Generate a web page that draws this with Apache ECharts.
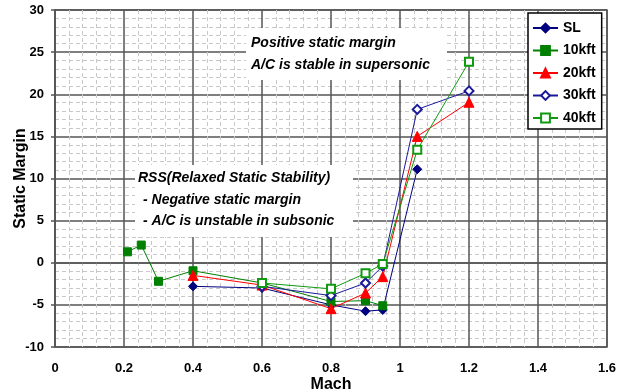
<!DOCTYPE html>
<html>
<head>
<meta charset="utf-8">
<script src="https://cdn.jsdelivr.net/npm/echarts@6/dist/echarts.min.js"></script>
<style>
  html, body { margin: 0; padding: 0; background: #fff; }
  #chart { width: 629px; height: 392px; }
</style>
</head>
<body>
<div id="chart"></div>
<script>
// Mach number / static margin for each altitude
var machSL = [0.4, 0.6, 0.8, 0.9, 0.95, 1.05];
var smSL = [-2.8, -3.0, -5.0, -5.75, -5.6, 11.1];

var mach10 = [0.21, 0.25, 0.3, 0.4, 0.6, 0.8, 0.9, 0.95];
var sm10 = [1.3, 2.1, -2.2, -0.95, -2.4, -4.6, -4.5, -5.1];

var mach20 = [0.4, 0.6, 0.8, 0.9, 0.95, 1.05, 1.2];
var sm20 = [-1.5, -2.65, -5.45, -3.6, -1.65, 15.0, 19.05];

var mach30 = [0.6, 0.8, 0.9, 0.95, 1.05, 1.2];
var sm30 = [-2.8, -3.9, -2.4, -0.4, 18.2, 20.4];

var mach40 = [0.6, 0.8, 0.9, 0.95, 1.05, 1.2];
var sm40 = [-2.4, -3.1, -1.25, -0.15, 13.4, 23.85];

var FONT = '"Liberation Sans", Arial, sans-serif';

function pairs(xs, ys) {
    return xs.map(function (x, i) { return [x, ys[i]]; });
}

function line(name, xs, ys, color, symbol, size) {
    return {
        name: name,
        type: 'line',
        data: pairs(xs, ys),
        symbol: symbol,
        symbolSize: size,
        color: color,
        lineStyle: { color: color, width: 1 },
        itemStyle: { color: color, borderColor: color, borderWidth: 1 },
        z: 3
    };
}

var myChart = echarts.init(document.getElementById('chart'));
myChart.setOption({
    animation: false,
    backgroundColor: '#fff',
    textStyle: { fontFamily: FONT },
    grid: {
        left: 55, right: 22, top: 10, bottom: 45,
        outerBoundsMode: 'none',
        containLabel: false,
        show: true,
        borderColor: '#555',
        borderWidth: 1.5
    },
    legend: {
        orient: 'vertical',
        left: 528, top: 13,
        width: 72,
        backgroundColor: '#fff',
        borderColor: '#000',
        borderWidth: 1.5,
        padding: [8, 6, 4, 4],
        itemWidth: 25,
        itemHeight: 11,
        itemGap: 8.5,
        textStyle: { fontFamily: FONT, fontWeight: 'bold', fontSize: 14, color: '#000' },
        data: ['SL', '10kft', '20kft', '30kft', '40kft']
    },
    xAxis: {
        type: 'value',
        min: 0, max: 1.6, interval: 0.2,
        name: 'Mach',
        nameLocation: 'middle',
        nameGap: 30,
        nameMoveOverlap: false,
        nameTextStyle: { fontFamily: FONT, fontWeight: 'bold', fontSize: 16, color: '#000' },
        axisLine: { show: true, lineStyle: { color: '#555', width: 1.5 } },
        axisTick: { show: false },
        axisLabel: {
            margin: 15,
            fontFamily: FONT, fontWeight: 'bold', fontSize: 13, color: '#000',
            formatter: function (v) { return String(Math.round(v * 10) / 10); }
        },
        splitLine: { show: true, lineStyle: { color: '#555', width: 1.5 } },
        minorTick: { show: false, splitNumber: 5 },
        minorSplitLine: { show: true, lineStyle: { color: '#c8c8c8', width: 1, type: [4, 3] } }
    },
    yAxis: {
        type: 'value',
        min: -10, max: 30, interval: 5,
        name: 'Static Margin',
        nameLocation: 'middle',
        nameGap: 26,
        nameMoveOverlap: false,
        nameTextStyle: { fontFamily: FONT, fontWeight: 'bold', fontSize: 16, color: '#000' },
        axisLine: { show: true, lineStyle: { color: '#555', width: 1.5 } },
        axisTick: { show: true, length: 4, inside: false, lineStyle: { color: '#555', width: 1.5 } },
        axisLabel: {
            margin: 11,
            fontFamily: FONT, fontWeight: 'bold', fontSize: 13, color: '#000'
        },
        splitLine: { show: true, lineStyle: { color: '#555', width: 1.5 } },
        minorTick: { show: false, splitNumber: 5 },
        minorSplitLine: { show: true, lineStyle: { color: '#c8c8c8', width: 1, type: [4, 3] } }
    },
    graphic: [
        {
            type: 'rect', z: 1,
            shape: { x: 246, y: 28, width: 201, height: 52 },
            style: { fill: '#fff' }
        },
        {
            type: 'text', z: 2, x: 251, y: 43,
            style: { text: 'Positive static margin', font: 'italic bold 14px ' + FONT, fill: '#000', verticalAlign: 'middle' }
        },
        {
            type: 'text', z: 2, x: 251, y: 65,
            style: { text: 'A/C is stable in supersonic', font: 'italic bold 14px ' + FONT, fill: '#000', verticalAlign: 'middle' }
        },
        {
            type: 'rect', z: 1,
            shape: { x: 135, y: 165, width: 218, height: 72 },
            style: { fill: '#fff' }
        },
        {
            type: 'text', z: 2, x: 138, y: 178,
            style: { text: 'RSS(Relaxed Static Stability)', font: 'italic bold 14px ' + FONT, fill: '#000', verticalAlign: 'middle' }
        },
        {
            type: 'text', z: 2, x: 143, y: 200,
            style: { text: '- Negative static margin', font: 'italic bold 14px ' + FONT, fill: '#000', verticalAlign: 'middle' }
        },
        {
            type: 'text', z: 2, x: 143, y: 221,
            style: { text: '- A/C is unstable in subsonic', font: 'italic bold 14px ' + FONT, fill: '#000', verticalAlign: 'middle' }
        }
    ],
    series: [
        line('SL', machSL, smSL, '#000080', 'diamond', 9),
        line('10kft', mach10, sm10, '#008000', 'rect', 8),
        line('20kft', mach20, sm20, '#ff0000', 'triangle', 10),
        line('30kft', mach30, sm30, '#1a1a99', 'emptyDiamond', 9),
        line('40kft', mach40, sm40, '#109a10', 'emptyRect', 8)
    ]
});
</script>
</body>
</html>
